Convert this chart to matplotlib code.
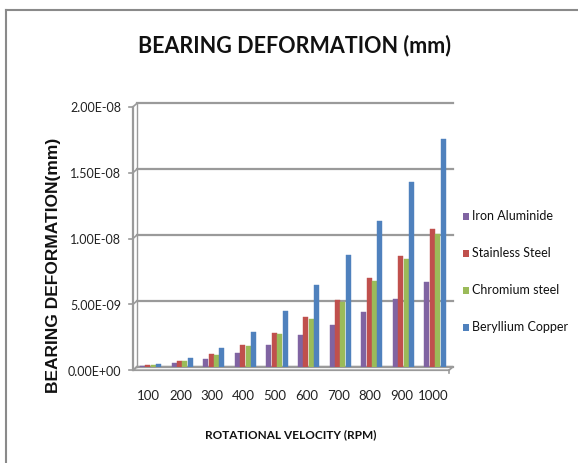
import numpy as np
import matplotlib
matplotlib.use("Agg")
import matplotlib.pyplot as plt
from matplotlib.patches import Rectangle, Polygon
from matplotlib.lines import Line2D

# data (mm)
rpm = ["100", "200", "300", "400", "500", "600", "700", "800", "900", "1000"]
iron_aluminide = np.array([0.07, 0.27, 0.58, 1.05, 1.62, 2.38, 3.20, 4.12, 5.15, 6.43]) * 1e-9
stainless_steel = np.array([0.11, 0.43, 0.93, 1.65, 2.55, 3.75, 5.10, 6.70, 8.43, 10.43]) * 1e-9
chromium_steel = np.array([0.10, 0.40, 0.90, 1.60, 2.48, 3.62, 4.92, 6.48, 8.15, 10.08]) * 1e-9
beryllium_copper = np.array([0.17, 0.65, 1.42, 2.62, 4.20, 6.20, 8.46, 11.08, 13.99, 17.27]) * 1e-9
serie = ["Iron Aluminide", "Stainless Steel", "Chromium steel", "Beryllium Copper"]
boje = ["#8064A2", "#C0504D", "#9BBB59", "#4F81BD"]
yticks = [0, 5e-9, 1e-8, 1.5e-8, 2e-8]
ytick_labels = ["0.00E+00", "5.00E-09", "1.00E-08", "1.50E-08", "2.00E-08"]

W, H = 578, 463
narrow = ["Lato", "DejaVu Sans"]

fig = plt.figure(figsize=(W / 100, H / 100), dpi=100)
fig.patch.set_facecolor("white")

# okvir grafa
fig.add_artist(Line2D([6 / W, 6 / W], [0, 1 - 10 / H], color="#8a8a8a", lw=1.5))
fig.add_artist(Line2D([6 / W, 1], [1 - 10 / H, 1 - 10 / H], color="#8a8a8a", lw=1.5))

# axes = back wall of the 3D plot
x0, x1, y0, y1 = 137, 453, 366.7, 103.3
ax = fig.add_axes([x0 / W, 1 - y0 / H, (x1 - x0) / W, (y0 - y1) / H])
ax.set_xlim(0, len(rpm))
ax.set_ylim(0, 2e-8)
for s in ax.spines.values():
    s.set_visible(False)
ax.set_xticks([])
ax.set_yticks([])

dx = -4 / (x1 - x0)
dy = -3.5 / (y0 - y1)
siva = "#9a9a9a"

# gridlines with 3D connectors and ticks
for v, lab in zip(yticks, ytick_labels):
    f = v / 2e-8
    ax.plot([0, 1], [f, f], color=siva, lw=1.6, transform=ax.transAxes, clip_on=False)
    ax.plot([dx, 0], [f + dy, f], color=siva, lw=1.2, transform=ax.transAxes, clip_on=False)
    ax.plot([2 * dx, dx], [f + dy, f + dy], color=siva, lw=1.2, transform=ax.transAxes, clip_on=False)
    ax.text(-16 / (x1 - x0), f + dy - 0.006, lab, transform=ax.transAxes, ha="right", va="center",
            fontsize=9, family=narrow, color="#222222")

# left wall line
ax.plot([dx, dx], [dy, 1 + dy], color=siva, lw=1.6, transform=ax.transAxes, clip_on=False)
ax.plot([0, 0], [0, 1], color=siva, lw=1.0, transform=ax.transAxes, clip_on=False)

# floor
floor = Polygon([[dx, dy], [1 + dx, dy], [1, 0], [0, 0]], closed=True, facecolor="white",
                edgecolor=siva, lw=1.3, transform=ax.transAxes, clip_on=False, zorder=1)
ax.add_patch(floor)
ax.plot([1 + dx, 1 + dx], [dy, dy - 0.012], color=siva, lw=1.2, transform=ax.transAxes, clip_on=False)

# bars
x = np.arange(len(rpm)) + 0.5 - 0.07
sirina = 0.17
podatci = [iron_aluminide, stainless_steel, chromium_steel, beryllium_copper]
for i, (vrijednosti, boja, ime) in enumerate(zip(podatci, boje, serie)):
    ax.bar(x + (i - 1.5) * sirina, vrijednosti, width=sirina * 0.92, color=boja,
           edgecolor=boja, lw=0.3, zorder=3, label=ime)

# x tick labels
for i, lab in enumerate(rpm):
    ax.text((i + 0.5) / len(rpm) + dx, -0.112, lab, transform=ax.transAxes, ha="center",
            va="center", fontsize=9.5, family=narrow, color="#222222")

fig.text(291 / W, 1 - 435 / H, "ROTATIONAL VELOCITY (RPM)", ha="center", va="center",
         fontsize=8.5, fontweight="bold", family=narrow, color="#111111")
fig.text(54 / W, 1 - 265 / H, "BEARING DEFORMATION(mm)", ha="center", va="center",
         rotation=90, fontsize=12.5, fontweight="bold", family=["Liberation Sans", "DejaVu Sans"],
         color="#111111")
fig.text(294 / W, 1 - 46 / H, "BEARING DEFORMATION (mm)", ha="center", va="center",
         fontsize=15.5, fontweight="bold", family=narrow, color="#111111")

# legend
leg_y = [216, 253, 290, 327]
for ime, boja, yy in zip(serie, boje, leg_y):
    fig.add_artist(Rectangle((463 / W, 1 - (yy + 3.5) / H), 6 / W, 7 / H, facecolor=boja,
                             edgecolor="none", transform=fig.transFigure))
    fig.text(472 / W, 1 - yy / H, ime, ha="left", va="center", fontsize=9, family=narrow,
             color="#111111")

fig.savefig("out.png", dpi=100)
